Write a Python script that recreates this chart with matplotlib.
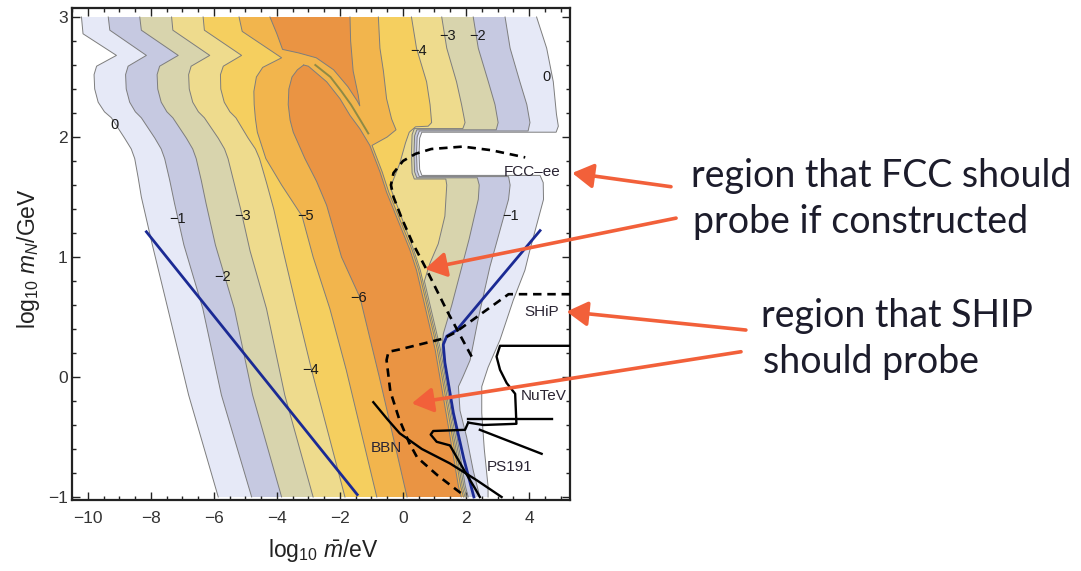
import numpy as np
import matplotlib.pyplot as plt
from matplotlib.ticker import MultipleLocator

plt.rcParams["font.family"] = ["Liberation Sans", "DejaVu Sans"]
plt.rcParams["mathtext.fontset"] = "custom"
plt.rcParams["mathtext.rm"] = "Liberation Sans"
plt.rcParams["mathtext.it"] = "Liberation Sans:italic"

# ----------------------------------------------------------
# DATA (log10 mbar/eV, log10 mN/GeV)
# contour boundaries, each listed from top to bottom
# ----------------------------------------------------------

LEVELS = [0, -1, -2, -3, -4, -5, -6]
BAND_COLORS = ["#e6e9f7", "#c6c9e1", "#d8d4ad", "#eedb8d", "#f5cf5f", "#f2b54d", "#ea9443"]

LEFT_0 = [(-10.2, 3.0), (-10.15, 2.86), (-9.09, 2.68), (-9.72, 2.59), (-9.8, 2.52), (-9.78, 2.4),
          (-9.67, 2.29), (-9.47, 2.21), (-9.25, 2.16), (-8.83, 1.99), (-8.62, 1.9), (-8.51, 1.82),
          (-8.4, 1.66), (-8.3, 1.5), (-7.95, 1.1), (-7.46, 0.57), (-6.8, -0.15), (-5.86, -1.0)]
LEFT_1 = [(-9.35, 3.0), (-9.3, 2.89), (-8.14, 2.68), (-8.72, 2.59), (-8.8, 2.52), (-8.78, 2.4),
          (-8.67, 2.29), (-8.49, 2.21), (-8.3, 2.16), (-7.87, 1.99), (-7.67, 1.9), (-7.56, 1.82),
          (-7.4, 1.64), (-7.25, 1.45), (-6.95, 1.1), (-6.35, 0.57), (-5.76, -0.15), (-4.8, -1.0)]
LEFT_2 = [(-8.35, 3.0), (-8.3, 2.89), (-7.13, 2.68), (-7.72, 2.59), (-7.8, 2.52), (-7.78, 2.4),
          (-7.67, 2.29), (-7.49, 2.21), (-7.3, 2.16), (-6.87, 1.99), (-6.67, 1.9), (-6.56, 1.82),
          (-6.4, 1.64), (-6.25, 1.45), (-5.95, 1.1), (-5.35, 0.57), (-4.77, -0.15), (-3.85, -1.0)]
LEFT_3 = [(-7.34, 3.0), (-7.3, 2.89), (-6.13, 2.68), (-6.72, 2.59), (-6.8, 2.52), (-6.78, 2.4),
          (-6.67, 2.29), (-6.49, 2.21), (-6.3, 2.16), (-5.86, 1.99), (-5.66, 1.9), (-5.55, 1.82),
          (-5.36, 1.62), (-5.15, 1.4), (-4.85, 1.05), (-4.33, 0.57), (-3.75, -0.15), (-2.85, -1.0)]
LEFT_4 = [(-6.34, 3.0), (-6.3, 2.89), (-5.12, 2.68), (-5.7, 2.59), (-5.79, 2.52), (-5.78, 2.4),
          (-5.67, 2.29), (-5.49, 2.21), (-5.3, 2.16), (-4.91, 1.99), (-4.68, 1.9), (-4.55, 1.82),
          (-4.33, 1.62), (-4.1, 1.4), (-3.8, 1.05), (-3.37, 0.57), (-2.9, 0.06), (-1.84, -1.0)]
LEFT_5 = [(-5.2, 3.0), (-5.1, 2.88), (-3.85, 2.66), (-4.45, 2.58), (-4.65, 2.5), (-4.73, 2.38),
          (-4.72, 2.27), (-4.68, 2.15), (-4.62, 2.04), (-4.35, 1.82), (-3.85, 1.6), (-3.2, 1.34),
          (-2.85, 1.0), (-2.32, 0.57), (-1.8, 0.06), (-0.83, -1.0)]

RIGHT_0 = [(4.24, 3.0), (4.56, 2.74), (4.77, 2.46), (4.87, 2.19), (4.93, 2.09), (4.86, 2.04),
           (0.6, 2.04), (0.53, 1.99), (0.51, 1.86), (0.53, 1.73), (0.6, 1.68), (4.35, 1.68),
           (4.45, 1.62), (4.46, 1.48), (4.03, 1.06), (3.87, 0.89), (3.5, 0.64), (3.08, 0.31),
           (2.7, 0.08), (2.5, -0.08), (2.5, -0.3), (2.58, -0.6), (2.7, -0.91), (2.7, -1.0)]
RIGHT_1 = [(3.24, 3.0), (3.4, 2.74), (3.71, 2.46), (3.93, 2.27), (4.03, 2.12), (3.97, 2.05),
           (0.52, 2.05), (0.45, 2.0), (0.43, 1.86), (0.45, 1.72), (0.52, 1.67), (3.35, 1.67),
           (3.4, 1.6), (3.35, 1.48), (2.76, 0.92), (2.4, 0.5), (2.13, 0.14), (1.9, 0.0),
           (1.76, -0.08), (1.81, -0.28), (2.02, -0.5), (2.23, -0.78), (2.44, -1.0)]
RIGHT_2 = [(2.23, 3.0), (2.39, 2.74), (2.71, 2.46), (2.92, 2.27), (3.02, 2.12), (2.96, 2.06),
           (0.44, 2.06), (0.37, 2.01), (0.35, 1.86), (0.37, 1.71), (0.44, 1.66), (2.36, 1.66),
           (2.42, 1.6), (2.39, 1.48), (2.1, 1.15), (1.81, 0.86), (1.55, 0.6), (1.28, 0.36),
           (1.24, 0.23), (1.62, -0.35), (1.98, -0.91), (2.07, -1.0)]
RIGHT_3 = [(1.23, 3.0), (1.39, 2.74), (1.7, 2.46), (1.86, 2.27), (1.97, 2.12), (1.9, 2.07),
           (0.36, 2.07), (0.29, 2.02), (0.27, 1.86), (0.29, 1.7), (0.36, 1.65), (1.36, 1.65),
           (1.39, 1.6), (1.33, 1.34), (1.12, 1.11), (0.86, 0.95), (0.75, 0.86), (0.68, 0.8),
           (1.19, 0.23), (1.57, -0.35), (1.93, -0.91), (2.02, -1.0)]
RIGHT_4 = [(0.27, 3.0), (0.43, 2.74), (0.75, 2.46), (0.86, 2.27), (0.91, 2.12), (0.8, 2.09),
           (0.4, 2.085), (0.2, 2.04), (0.08, 1.95), (-0.1, 1.78), (-0.4, 1.58), (0.34, 1.06),
           (0.55, 0.89), (1.14, 0.23), (1.52, -0.35), (1.88, -0.91), (1.97, -1.0)]
RIGHT_5 = [(-0.78, 3.0), (-0.73, 2.74), (-0.62, 2.55), (-0.52, 2.32), (-0.36, 2.15), (-0.22, 2.06),
           (-0.5, 2.0), (-0.98, 1.93), (-0.66, 1.71), (-0.45, 1.54), (0.29, 1.06), (0.5, 0.89),
           (1.09, 0.23), (1.47, -0.35), (1.83, -0.91), (1.92, -1.0)]

# deepest level (< -6): an island at the top and the long tongue
ISLAND_6 = [(-4.22, 3.0), (-4.0, 2.86), (-3.82, 2.73), (-3.3, 2.7), (-2.75, 2.66), (-2.2, 2.56),
            (-1.75, 2.42), (-1.45, 2.3), (-1.37, 2.26), (-1.42, 2.35), (-1.58, 2.55), (-1.66, 2.8),
            (-1.68, 3.0)]
TONGUE_6_LEFT = [(-3.15, 2.6), (-3.35, 2.56), (-3.52, 2.5), (-3.62, 2.4), (-3.64, 2.27),
                 (-3.58, 2.14), (-3.48, 2.04), (-3.11, 1.82), (-2.74, 1.63), (-2.42, 1.43),
                 (-1.95, 1.0), (-1.36, 0.66), (-0.75, 0.0), (0.13, -1.0)]
TONGUE_6_RIGHT = [(-3.15, 2.6), (-3.0, 2.59), (-2.42, 2.46), (-2.0, 2.32), (-1.68, 2.18),
                  (-1.37, 2.07), (-1.05, 1.93), (-0.73, 1.71), (-0.52, 1.54), (0.22, 1.06),
                  (0.43, 0.89), (1.02, 0.23), (1.4, -0.35), (1.76, -0.91), (1.85, -1.0)]
NOISE_RIDGE = [(-2.78, 2.6), (-2.3, 2.5), (-1.95, 2.38), (-1.65, 2.27), (-1.35, 2.14), (-1.1, 2.03)]

CONTOUR_LABELS = [("0", -9.15, 2.1), ("−1", -7.16, 1.32), ("−2", -5.72, 0.83), ("−3", -5.1, 1.34),
                  ("−5", -3.1, 1.34), ("−6", -1.4, 0.66), ("−4", -2.93, 0.06), ("−4", 0.5, 2.72),
                  ("−3", 1.43, 2.84), ("−2", 2.38, 2.84), ("0", 4.57, 2.5), ("−1", 3.41, 1.34)]

# experimental / theory lines
BLUE_LEFT = [(-8.14, 1.21), (-1.45, -0.98)]
BLUE_RIGHT = [(4.35, 1.22), (1.7, 0.39), (1.39, 0.34), (1.28, 0.27), (1.33, 0.12), (1.6, -0.3),
              (1.93, -0.68), (2.25, -1.0)]
FCC_DASHED = [(2.18, 0.17), (1.4, 0.55), (0.7, 0.92), (0.3, 1.12), (-0.05, 1.33), (-0.3, 1.5),
              (-0.38, 1.6), (-0.3, 1.7), (0.0, 1.8), (0.4, 1.86), (0.9, 1.9), (1.9, 1.92),
              (2.8, 1.89), (3.88, 1.83)]
SHIP_DASHED = [(5.3, 0.69), (3.35, 0.69), (1.65, 0.37), (1.28, 0.32), (-0.1, 0.23), (-0.46, 0.21),
               (-0.52, 0.14), (-0.4, -0.12), (-0.12, -0.35), (0.2, -0.55), (0.45, -0.67),
               (1.1, -0.82), (1.9, -0.98)]
BBN = [(-0.94, -0.21), (-0.5, -0.35), (-0.1, -0.47), (0.6, -0.6), (1.49, -0.72), (2.34, -0.86),
       (3.13, -1.0)]
NUTEV = [(5.3, 0.26), (3.08, 0.26), (2.97, 0.17), (3.08, 0.06), (3.29, -0.05), (3.56, -0.14),
         (3.6, -0.39), (2.55, -0.4), (2.07, -0.38)]
PS191 = [(2.07, -0.38), (1.97, -0.44), (0.96, -0.45), (0.88, -0.48), (1.07, -0.54), (1.49, -0.57),
         (1.6, -0.62), (1.97, -0.79), (2.29, -0.93), (2.44, -1.0)]
PS191_EDGE = [(2.44, -0.44), (4.4, -0.64)]
NUTEV_EDGE = [(2.07, -0.35), (4.72, -0.35)]

EXPERIMENT_LABELS = [("FCC–ee", 4.11, 1.71), ("SHiP", 4.4, 0.545), ("NuTeV", 4.48, -0.16),
                     ("PS191", 3.37, -0.75), ("BBN", -0.52, -0.59)]

# callouts: arrow tip in data units, tail in figure fraction
CALLOUT_TIPS = [(5.37, 1.70), (0.70, 0.90), (5.19, 0.545), (0.28, -0.22)]
CALLOUT_TAILS = [(0.6207, 0.673), (0.6254, 0.618), (0.690, 0.422), (0.6855, 0.384)]
CALLOUT_TEXT = [("region that FCC should", 0.639, 0.673), ("probe if constructed", 0.641, 0.5914),
                ("region that SHIP", 0.704, 0.428), ("should probe", 0.7055, 0.346)]

LEFTS = [LEFT_0, LEFT_1, LEFT_2, LEFT_3, LEFT_4, LEFT_5]
RIGHTS = [RIGHT_0, RIGHT_1, RIGHT_2, RIGHT_3, RIGHT_4, RIGHT_5]

LINE_GRAY = "#7d7d7d"
ORANGE = "#f2603a"
BLUE = "#1b2a94"


def xy(points):
    arr = np.array(points, dtype=float)
    return arr[:, 0], arr[:, 1]


fig = plt.figure(figsize=(10.81, 5.71), dpi=100)
ax = fig.add_axes([72 / 1081, 71 / 571, 498 / 1081, 492 / 571])

# filled bands, painted from the outermost level inwards
for k, (left, right) in enumerate(zip(LEFTS, RIGHTS)):
    px, py = xy(left + right[::-1])
    ax.fill(px, py, color=BAND_COLORS[k], lw=0, zorder=1)
for region in (ISLAND_6, TONGUE_6_LEFT + TONGUE_6_RIGHT[::-1]):
    px, py = xy(region)
    ax.fill(px, py, color=BAND_COLORS[6], lw=0, zorder=1)

# contour lines
for curve in LEFTS + RIGHTS + [ISLAND_6, TONGUE_6_LEFT, TONGUE_6_RIGHT]:
    ax.plot(*xy(curve), color=LINE_GRAY, lw=0.7, zorder=2, solid_joinstyle="round")
ax.plot(*xy(NOISE_RIDGE), color="#8f8a45", lw=1.4, zorder=2)

for text, x, y in CONTOUR_LABELS:
    ax.text(x, y, text, fontsize=10.5, ha="center", va="center", color="#1a1a1a", zorder=5)

# bounds
ax.plot(*xy(BLUE_LEFT), color=BLUE, lw=2.0, zorder=3)
ax.plot(*xy(BLUE_RIGHT), color=BLUE, lw=2.0, zorder=3)
for dashed in (FCC_DASHED, SHIP_DASHED):
    ax.plot(*xy(dashed), color="black", lw=1.9, ls=(0, (3.2, 2.2)), zorder=3)
for solid in (BBN, NUTEV, PS191, PS191_EDGE, NUTEV_EDGE):
    ax.plot(*xy(solid), color="black", lw=1.7, zorder=3)

for text, x, y in EXPERIMENT_LABELS:
    ax.text(x, y, text, fontsize=11, ha="center", va="center", color="#2a2433", zorder=5)

ax.set_xlim(-10.5, 5.3)
ax.set_ylim(-1.025, 3.075)
ax.xaxis.set_major_locator(MultipleLocator(2))
ax.xaxis.set_minor_locator(MultipleLocator(0.5))
ax.yaxis.set_major_locator(MultipleLocator(1))
ax.yaxis.set_minor_locator(MultipleLocator(0.2))
ax.tick_params(which="both", direction="in", top=True, right=True, color="#222222", width=1.0,
               labelsize=12.5, labelcolor="#333333")
ax.tick_params(which="major", length=6)
ax.tick_params(which="minor", length=3)
ax.tick_params(axis="x", pad=8)
ax.tick_params(axis="y", pad=3)
for spine in ax.spines.values():
    spine.set_linewidth(1.6)
    spine.set_color("#222222")

ax.set_xlabel(r"log$_{10}$ $\bar{m}$/eV", fontsize=16.5, color="#222222")
ax.set_ylabel(r"log$_{10}$ $m_N$/GeV", fontsize=16.5, color="#222222")
ax.xaxis.set_label_coords(0.505, -0.075)
ax.yaxis.set_label_coords(-0.06, 0.49)

# callout arrows and text on the right
for tip, tail in zip(CALLOUT_TIPS, CALLOUT_TAILS):
    ax.annotate("", xy=tip, xycoords="data", xytext=tail, textcoords="figure fraction",
                arrowprops=dict(arrowstyle="-|>,head_length=0.85,head_width=0.5", color=ORANGE,
                                lw=2.6, mutation_scale=15, shrinkA=0, shrinkB=0),
                annotation_clip=False, zorder=10)
for text, fx, fy in CALLOUT_TEXT:
    fig.text(fx, fy, text, fontsize=27, family=["Lato", "DejaVu Sans"], color="#1c1c2b",
             ha="left", va="baseline")

fig.savefig("out.png", dpi=100)
